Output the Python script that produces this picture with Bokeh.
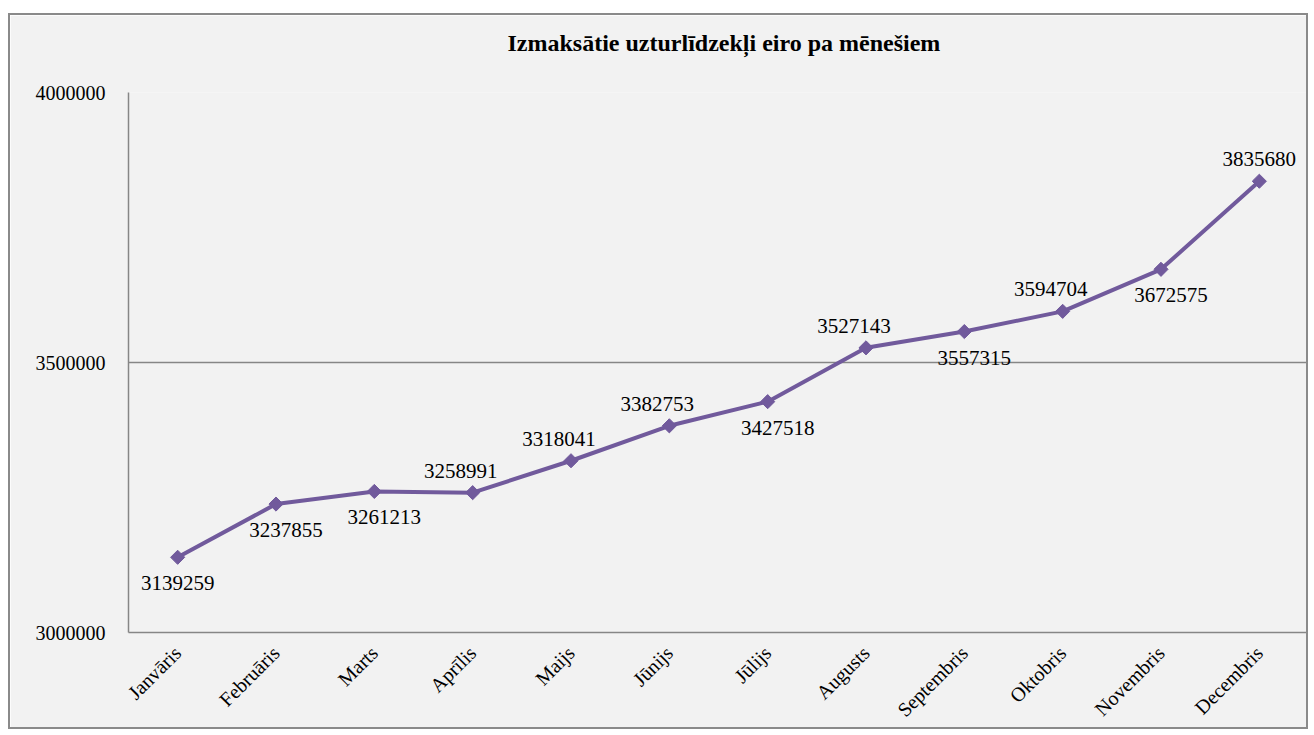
import math
from bokeh.plotting import figure
from bokeh.models import ColumnDataSource, LabelSet, Title, FixedTicker, BasicTickFormatter, Range1d
from bokeh.embed import file_html
from bokeh.resources import INLINE

months = ["Janvāris", "Februāris", "Marts", "Aprīlis", "Maijs", "Jūnijs",
          "Jūlijs", "Augusts", "Septembris", "Oktobris", "Novembris", "Decembris"]
values = [3139259, 3237855, 3261213, 3258991, 3318041, 3382753,
          3427518, 3527143, 3557315, 3594704, 3672575, 3835680]
label_side = ["below", "below", "below", "above", "above", "above",
              "below", "above", "below", "above", "below", "above"]
y_ticks = [3000000, 3500000, 4000000]
title_text = "Izmaksātie uzturlīdzekļi eiro pa mēnešiem"

LINE = "#715a9c"
BG = "#f2f2f2"
AX = "#868686"
FONT = "Liberation Serif"

n = len(months)
x_off, y_off = [], []
for i, s in enumerate(label_side):
    if s == "above":
        dx, dy = -12, 22
    else:
        dx, dy = 10, -26
    if i == 0 or i == n - 1:
        dx = 0
    x_off.append(dx)
    y_off.append(dy)

src = ColumnDataSource(dict(x=months, y=values, lbl=[str(v) for v in values],
                            xo=x_off, yo=y_off))

p = figure(x_range=months, y_range=Range1d(3000000, 4000000),
           width=1300, height=716, output_backend="svg", toolbar_location=None,
           min_border_left=118, min_border_top=77, min_border_bottom=99,
           min_border_right=2)
p.styles = {"border": "2px solid #8a8a8a", "margin-left": "8px", "margin-top": "13px"}
p.background_fill_color = BG
p.border_fill_color = BG
p.outline_line_color = None

# spacer between the title and the plot area
p.add_layout(Title(text=" ", text_font_size="20px", standoff=8), "above")

p.title.text = title_text
p.title.align = "left"
p.title.offset = 379
p.title.text_font = FONT
p.title.text_font_size = "24px"
p.title.text_font_style = "bold"
p.title.text_color = "#000000"
p.title.standoff = 10

p.line("x", "y", source=src, line_color=LINE, line_width=4)
p.scatter("x", "y", source=src, marker="square", angle=math.pi / 4, size=10,
          fill_color=LINE, line_color=LINE)

labels = LabelSet(x="x", y="y", text="lbl", source=src, x_offset="xo", y_offset="yo",
                  text_align="center", text_baseline="middle",
                  text_font=FONT, text_font_size="21px", text_color="#000000")
p.add_layout(labels)

p.xgrid.grid_line_color = None
p.ygrid.grid_line_color = AX
p.ygrid.grid_line_width = 1.5
p.yaxis.ticker = FixedTicker(ticks=y_ticks)
p.yaxis.formatter = BasicTickFormatter(use_scientific=False)

for ax in (p.xaxis[0], p.yaxis[0]):
    ax.axis_line_color = AX
    ax.axis_line_width = 1.5
    ax.major_tick_line_color = None
    ax.minor_tick_line_color = None
    ax.major_label_text_font = FONT
    ax.major_label_text_font_size = "20px"
    ax.major_label_text_color = "#000000"

p.yaxis.major_label_standoff = 17
p.xaxis.major_label_standoff = 11
p.xaxis.major_label_orientation = math.pi / 4
p.x_range.range_padding = 0

open("out.html", "w").write(file_html(p, INLINE))
